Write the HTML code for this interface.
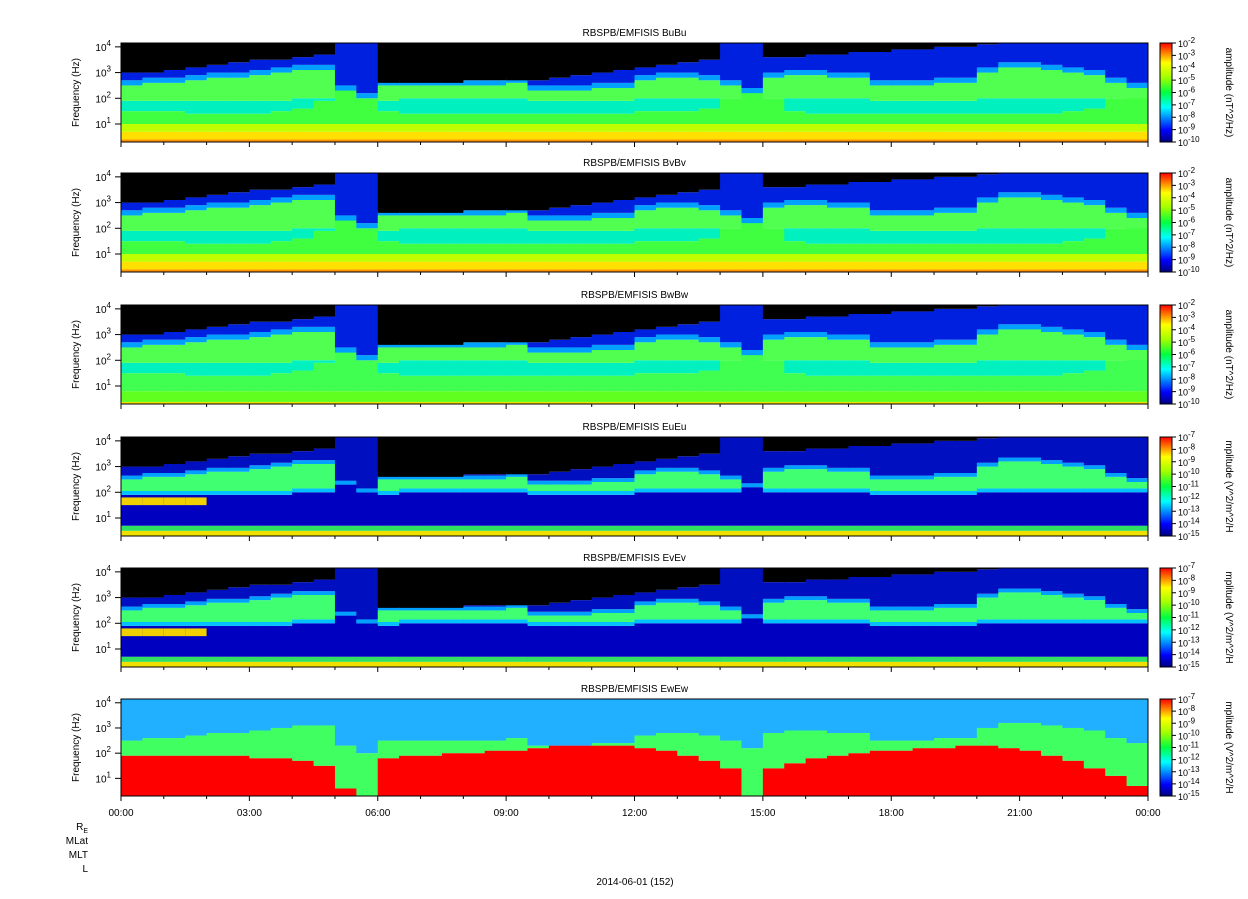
<!DOCTYPE html>
<html><head><meta charset="utf-8"><style>
body{margin:0;background:#fff;}
svg{display:block;font-family:"Liberation Sans",sans-serif;}
</style></head><body>
<svg id="chart" width="1248" height="899" xmlns="http://www.w3.org/2000/svg">
<defs>
<linearGradient id="jet" x1="0" y1="1" x2="0" y2="0">
<stop offset="0" stop-color="#000080"/><stop offset="0.12" stop-color="#0000ff"/><stop offset="0.35" stop-color="#00ffff"/><stop offset="0.5" stop-color="#00ff40"/><stop offset="0.65" stop-color="#a0ff00"/><stop offset="0.8" stop-color="#ffff00"/><stop offset="0.9" stop-color="#ff8000"/><stop offset="1" stop-color="#ff0000"/>
</linearGradient>
</defs>
</svg>
<script>
// ---- data (per 30-minute bin, 48 bins, log10 Hz) ----
const hissTop=[2.5,2.6,2.6,2.7,2.8,2.8,2.9,3.0,3.1,3.1,2.3,2.0,2.5,2.5,2.5,2.5,2.5,2.5,2.6,2.3,2.3,2.3,2.4,2.4,2.7,2.8,2.8,2.7,2.5,2.2,2.8,2.9,2.9,2.8,2.8,2.5,2.5,2.5,2.6,2.6,3.0,3.2,3.2,3.1,3.0,2.9,2.6,2.4];
const hissBot=[1.9,1.9,1.9,1.9,1.9,1.9,1.9,1.9,2.0,2.0,2.3,2.0,1.9,2.0,2.0,2.0,2.0,2.0,2.0,1.9,1.9,1.9,1.9,1.9,2.0,2.0,2.0,2.0,2.0,2.2,2.0,2.0,2.0,2.0,2.0,1.9,1.9,1.9,1.9,1.9,2.0,2.0,2.0,2.0,2.0,2.0,2.0,2.0];
const lowTop=[1.5,1.5,1.5,1.4,1.4,1.4,1.4,1.5,1.6,1.9,2.4,2.0,1.5,1.4,1.4,1.4,1.4,1.4,1.4,1.4,1.4,1.4,1.4,1.4,1.5,1.5,1.5,1.6,2.0,2.5,2.0,1.5,1.4,1.4,1.4,1.4,1.4,1.4,1.4,1.4,1.4,1.4,1.4,1.4,1.5,1.6,2.0,2.3];
const topBlack=[3.0,3.0,3.1,3.2,3.3,3.4,3.5,3.5,3.6,3.7,4.2,4.2,2.6,2.6,2.6,2.6,2.7,2.7,2.7,2.7,2.8,2.9,3.0,3.1,3.2,3.3,3.4,3.5,4.2,4.2,3.6,3.6,3.7,3.7,3.8,3.8,3.9,3.9,4.0,4.0,4.1,4.2,4.2,4.2,4.2,4.2,4.2,4.2];
const redTop=[1.9,1.9,1.9,1.9,1.9,1.9,1.8,1.8,1.7,1.5,0.6,0.3,1.8,1.9,1.9,2.0,2.0,2.1,2.1,2.2,2.3,2.3,2.3,2.3,2.2,2.1,1.9,1.7,1.4,0.3,1.4,1.6,1.8,1.9,2.0,2.1,2.1,2.2,2.2,2.3,2.3,2.2,2.1,1.9,1.7,1.4,1.1,0.7];
const panelTitles=["RBSPB/EMFISIS  BuBu","RBSPB/EMFISIS  BvBv","RBSPB/EMFISIS  BwBw","RBSPB/EMFISIS  EuEu","RBSPB/EMFISIS  EvEv","RBSPB/EMFISIS  EwEw"];
const xTickLabels=["00:00","03:00","06:00","09:00","12:00","15:00","18:00","21:00","00:00"];
const yTickExp=[1,2,3,4];
const cbExpB=[-2,-3,-4,-5,-6,-7,-8,-9,-10];
const cbExpE=[-7,-8,-9,-10,-11,-12,-13,-14,-15];

const NS="http://www.w3.org/2000/svg";
const svg=document.getElementById('chart');
const X0=121,X1=1148,LMIN=0.3,LMAX=4.15;
const panels=[[43,142],[173,272],[305,404],[437,536],[568,667],[699,796]];
function mk(tag,attrs,parent){const e=document.createElementNS(NS,tag);for(const k in attrs)e.setAttribute(k,attrs[k]);(parent||svg).appendChild(e);return e;}
const xScale=h=>X0+h/24*(X1-X0);
function yScale(p,l){const[t,b]=panels[p];return b-(Math.max(LMIN,Math.min(LMAX,l))-LMIN)/(LMAX-LMIN)*(b-t);}
const nb=hissTop.length;

panels.forEach(([t,b],p)=>{
  const g=mk('g',{});
  
  
  const isE=p>=3;
  for(let i=0;i<nb;i++){
    const xa=xScale(i*24/nb),xb=xScale((i+1)*24/nb)+0.5;
    let bands;
    if(p<2){
      bands=[[LMIN,0.4,'#ff9000'],[0.4,0.7,'#ffe000'],[0.7,1.0,'#c0ff00'],[1.0,lowTop[i],'#40ff40'],[lowTop[i],hissBot[i],'#00f0c0'],[hissBot[i],hissTop[i],'#50ff50'],[hissTop[i],hissTop[i]+0.2,'#00a0ff'],[hissTop[i]+0.2,topBlack[i],'#0020e0'],[topBlack[i],LMAX,'#000000']];
    }else if(p==2){
      bands=[[LMIN,0.38,'#f0e000'],[0.38,0.8,'#60ff20'],[0.8,lowTop[i],'#40ff50'],[lowTop[i],hissBot[i],'#00f0c0'],[hissBot[i],hissTop[i],'#50ff50'],[hissTop[i],hissTop[i]+0.2,'#00a0ff'],[hissTop[i]+0.2,topBlack[i],'#0020e0'],[topBlack[i],LMAX,'#000000']];
    }else if(p<5){
      bands=[[LMIN,0.5,'#f0e000'],[0.5,0.7,'#30e060'],[0.7,hissBot[i],'#0000c0'],[hissBot[i],hissBot[i]+0.15,'#00c0ff'],[hissBot[i]+0.15,hissTop[i],'#40ff70'],[hissTop[i],hissTop[i]+0.15,'#00a0ff'],[hissTop[i]+0.15,topBlack[i],'#0010c0'],[topBlack[i],LMAX,'#000000']];
      if(i<4) bands.push([1.5,1.8,'#f0d000']);
    }else{
      bands=[[LMIN,Math.max(redTop[i],0.3),'#ff0000'],[Math.max(redTop[i],0.3),hissTop[i],'#40ff60'],[hissTop[i],LMAX,'#20b0ff']];
    }
    bands.forEach(([lo,hi,c])=>{
      if(hi<=lo)return;
      const r=mk('rect',{x:xa,y:yScale(p,hi),width:xb-xa,height:yScale(p,lo)-yScale(p,hi),fill:c},g);
      
      
    });
  }
  const fr=mk('rect',{x:X0,y:t,width:X1-X0,height:b-t,fill:'none',stroke:'#000','stroke-width':1});
  
  
  const tt=mk('text',{x:(X0+X1)/2,y:t-7,'font-size':10,'text-anchor':'middle'});tt.textContent=panelTitles[p];
  
  
  const yl=mk('text',{x:79,y:(t+b)/2,'font-size':10,'text-anchor':'middle',transform:`rotate(-90 79 ${(t+b)/2})`});yl.textContent='Frequency (Hz)';
  
  
  yTickExp.forEach(e=>{
    const y=yScale(p,e);
    mk('line',{x1:X0-6,x2:X0,y1:y,y2:y,stroke:'#000'});
    const tx=mk('text',{x:X0-10,y:y+4,'font-size':10,'text-anchor':'end'});
    tx.innerHTML='10<tspan dy="-5" font-size="8">'+e+'</tspan>';
    
    
  });
  for(let h=0;h<=24;h++){
    const x=xScale(h),len=h%3==0?5:3;
    mk('line',{x1:x,x2:x,y1:b,y2:b+len,stroke:'#000'});
  }
  const cb=mk('rect',{x:1160,y:t,width:12,height:b-t,fill:'url(#jet)',stroke:'#000'});
  
  
  const ex=isE?cbExpE:cbExpB;
  ex.forEach((e,k)=>{
    const y=t+k*(b-t)/(ex.length-1);
    mk('line',{x1:1172,x2:1176,y1:y,y2:y,stroke:'#000'});
    const tx=mk('text',{x:1178,y:y+4,'font-size':9});
    tx.innerHTML='10<tspan dy="-4" font-size="8">'+e+'</tspan>';
    
    
  });
  const ut=mk('text',{x:1226,y:(t+b)/2,'font-size':10,'text-anchor':'middle',transform:`rotate(90 1226 ${(t+b)/2})`});
  ut.textContent=isE?'mplitude (V^2/m^2/H':'amplitude (nT^2/Hz)';
  
  
});
xTickLabels.forEach((s,k)=>{
  const tx=mk('text',{x:xScale(k*3),y:816,'font-size':10,'text-anchor':'middle'});tx.textContent=s;
  
  
});
[['R',826],['MLat',840],['MLT',854],['L',868]].forEach(([s,y],k)=>{
  const tx=mk('text',{x:88,y:y+4,'font-size':10,'text-anchor':'end'});
  tx.innerHTML=k==0?'R<tspan dy="3" font-size="7">E</tspan>':s;
  
  
});
const dt=mk('text',{x:635,y:885,'font-size':10,'text-anchor':'middle'});dt.textContent='2014-06-01 (152)';


</script>
</body></html>
